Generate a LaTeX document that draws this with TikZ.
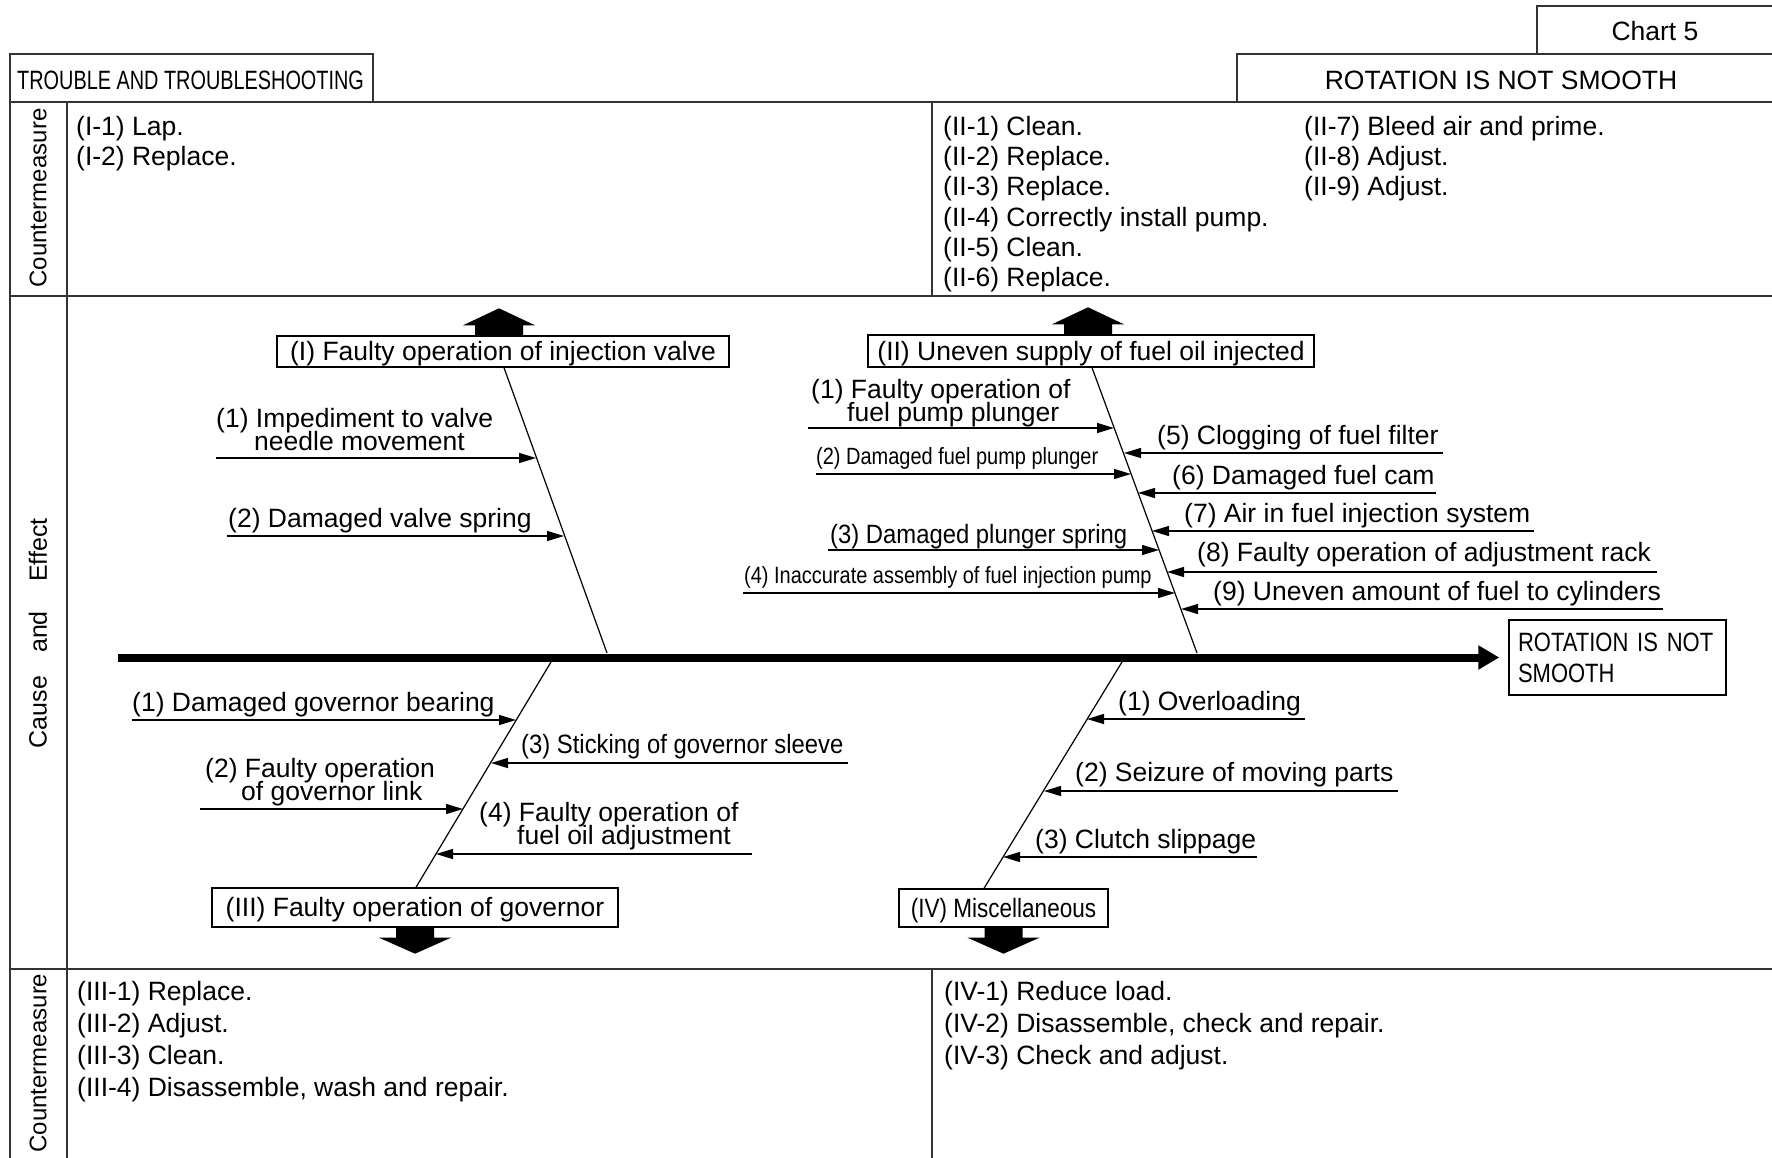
\documentclass[tikz,border=0pt]{standalone}
\usepackage{fontspec}
\setmainfont{Liberation Sans}
\newfontfamily\cnA[FakeStretch=0.75]{Liberation Sans}
\newfontfamily\cnB[FakeStretch=0.85]{Liberation Sans}
\newfontfamily\cnC[FakeStretch=0.9]{Liberation Sans}
\newfontfamily\cnD[FakeStretch=0.83]{Liberation Sans}
\newcommand\fixls{\lineskiplimit=-50pt\relax}
\usetikzlibrary{arrows.meta}
\begin{document}
\begin{tikzpicture}[x=1pt,y=-1pt,
  every node/.style={inner sep=0pt, font={\fontsize{26.5}{23}\selectfont\fixls}, text=black},
  frame/.style={line width=1.8pt, black!80},
  item/.style={anchor=west, yshift=-2.5pt},
  twoline/.style={anchor=north west, align=left, yshift=-2.5pt},
  vlabel/.style={rotate=90, font={\fontsize{24}{24}\selectfont}},
  titlebox/.style={draw, line width=1.4pt, align=center, text height=24.4pt, text depth=5.6pt},
  bone/.style={line width=1.2pt},
  cause/.style={line width=1.4pt, -{Triangle[length=17pt,width=10pt]}},
  spine/.style={line width=8pt, -{Triangle[length=21pt,width=23pt]}},
  uparr/.pic={\fill (-24,0) -- (-24,-10) -- (-36,-10) -- (0,-27) -- (36,-10) -- (24,-10) -- (24,0) -- cycle;},
  dnarr/.pic={\fill (-19,0) -- (-19,10) -- (-36,10) -- (0,26) -- (36,10) -- (19,10) -- (19,0) -- cycle;},
  condB/.style={font={\cnB\fontsize{23.5}{23}\selectfont\fixls}},
  condC/.style={font={\cnC\fontsize{26.5}{23}\selectfont\fixls}},
]
\useasboundingbox (0,0) rectangle (1772,1158);

% ---------- frame ----------
\draw[frame] (1537,54) -- (1537,6) -- (1772,6);
\draw[frame] (1237,102) -- (1237,54) -- (1772,54);
\draw[frame] (10,1158) -- (10,54) -- (373,54) -- (373,102);
\draw[frame] (10,102) -- (1772,102);
\draw[frame] (10,296) -- (1772,296);
\draw[frame] (10,969) -- (1772,969);
\draw[frame] (67,102) -- (67,1158);
\draw[frame] (932,102) -- (932,296);
\draw[frame] (932,969) -- (932,1158);

% ---------- headers ----------
\node[yshift=-1pt] (chart) at (1655,30) {Chart 5};
\node[yshift=-1pt] (title) at (1501,79) {ROTATION IS NOT SMOOTH};
\node[anchor=west, yshift=-1pt, font={\cnA\fontsize{26.5}{23}\selectfont}] (trouble) at (17,79) {TROUBLE AND TROUBLESHOOTING};

% ---------- side labels ----------
\node[vlabel] (cmtop) at (38,198) {Countermeasure};
\node[vlabel] (cmbot) at (38,1063) {Countermeasure};
\node[vlabel, font={\fontsize{25}{25}\selectfont}] (lcause) at (38,712) {Cause};
\node[vlabel, font={\fontsize{25}{25}\selectfont}] (land) at (38,632) {and};
\node[vlabel, font={\fontsize{25}{25}\selectfont}] (leffect) at (38,550) {Effect};

% ---------- countermeasures ----------
\foreach \t [count=\i] in {(I-1) Lap., (I-2) Replace.}
  \node[item] (cmI\i) at (76,{126+30.3*(\i-1)}) {\t};
\foreach \t [count=\i] in {(II-1) Clean., (II-2) Replace., (II-3) Replace., (II-4) Correctly install pump., (II-5) Clean., (II-6) Replace.}
  \node[item] (cmII\i) at (943,{126+30.3*(\i-1)}) {\t};
\foreach \t [count=\i from 7] in {(II-7) Bleed air and prime., (II-8) Adjust., (II-9) Adjust.}
  \node[item] (cmII\i) at (1304,{126+30.3*(\i-7)}) {\t};
\foreach \t [count=\i] in {(III-1) Replace., (III-2) Adjust., (III-3) Clean., {(III-4) Disassemble, wash and repair.}}
  \node[item] (cmIII\i) at (77,{991+32*(\i-1)}) {\t};
\foreach \t [count=\i] in {(IV-1) Reduce load., {(IV-2) Disassemble, check and repair.}, (IV-3) Check and adjust.}
  \node[item] (cmIV\i) at (944,{991+32*(\i-1)}) {\t};

% ---------- fishbone boxes ----------
\node[titlebox, minimum width=452pt, minimum height=31pt] (bI) at (503,351.5) {(I) Faulty operation of injection valve};
\node[titlebox, minimum width=446pt, minimum height=32pt] (bII) at (1091,351) {(II) Uneven supply of fuel oil injected};
\node[titlebox, minimum width=406pt, minimum height=39pt] (bIII) at (415,907.5) {(III) Faulty operation of governor};
\node[titlebox, minimum width=209pt, minimum height=38pt, font={\cnB\fontsize{26.5}{23}\selectfont}] (bIV) at (1003.5,908) {(IV) Miscellaneous};
\node[draw, line width=1.4pt, minimum width=217pt, minimum height=75pt, text width=199pt, align=left, font={\cnD\fontsize{26.5}{31}\selectfont\fixls}] (res) at (1617.5,657.5) {ROTATION IS NOT\\SMOOTH};

\pic at ([xshift=-4pt]bI.north) {uparr};
\pic at ([xshift=-3pt]bII.north) {uparr};
\pic at (bIII.south) {dnarr};
\pic at (bIV.south) {dnarr};

% ---------- spine and bones ----------
\coordinate (spL) at (118,657.5);
\draw[spine] (spL) -- ([xshift=-9pt]res.west);
\coordinate (jI) at (607,653);
\coordinate (jII) at (1197,653);
\coordinate (jIII) at (551,662);
\coordinate (jIV) at (1122,662);
\draw[bone] ([xshift=1pt]bI.south) -- (jI);
\draw[bone] ([xshift=1pt]bII.south) -- (jII);
\draw[bone] (jIII) -- ([xshift=1pt]bIII.north);
\draw[bone] (jIV) -- ([xshift=-19.5pt]bIV.north);

% ---------- cause arrows ----------
\coordinate (sI1) at (216,458);   \coordinate (tI1) at (536,458);
\coordinate (sI2) at (227,536);   \coordinate (tI2) at (564,536);
\coordinate (sII1) at (808,428);  \coordinate (tII1) at (1114,428);
\coordinate (sII2) at (816,474);  \coordinate (tII2) at (1131,474);
\coordinate (sII3) at (828,550);  \coordinate (tII3) at (1159,550);
\coordinate (sII4) at (743,593);  \coordinate (tII4) at (1175,593);
\coordinate (sII5) at (1443,453); \coordinate (tII5) at (1124,453);
\coordinate (sII6) at (1436,493); \coordinate (tII6) at (1138,493);
\coordinate (sII7) at (1534,531); \coordinate (tII7) at (1152,531);
\coordinate (sII8) at (1657,572); \coordinate (tII8) at (1167,572);
\coordinate (sII9) at (1663,609); \coordinate (tII9) at (1181,609);
\coordinate (sIII1) at (132,720); \coordinate (tIII1) at (516,720);
\coordinate (sIII2) at (200,809); \coordinate (tIII2) at (463,809);
\coordinate (sIII3) at (848,763); \coordinate (tIII3) at (491,763);
\coordinate (sIII4) at (752,854); \coordinate (tIII4) at (436,854);
\coordinate (sIV1) at (1305,719); \coordinate (tIV1) at (1087,719);
\coordinate (sIV2) at (1398,791); \coordinate (tIV2) at (1044,791);
\coordinate (sIV3) at (1257,857); \coordinate (tIV3) at (1003,857);
\foreach \n in {I1,I2,II1,II2,II3,II4,II5,II6,II7,II8,II9,III1,III2,III3,III4,IV1,IV2,IV3}
  \draw[cause] (s\n) -- (t\n);

% ---------- cause labels ----------
\node[twoline] (lI1) at (216,405.5) {(1) Impediment to valve\\\hspace*{38pt}needle movement};
\node[item] (lI2) at (228,518) {(2) Damaged valve spring};
\node[twoline] (lII1) at (811,376.5) {(1) Faulty operation of\\\hspace*{36pt}fuel pump plunger};
\node[item, condB] (lII2) at (816,456) {(2) Damaged fuel pump plunger};
\node[item, condC] (lII3) at (830,534) {(3) Damaged plunger spring};
\node[item, condB] (lII4) at (744,575) {(4) Inaccurate assembly of fuel injection pump};
\node[item] (lII5) at (1157,435) {(5) Clogging of fuel filter};
\node[item] (lII6) at (1172,475) {(6) Damaged fuel cam};
\node[item] (lII7) at (1184,513) {(7) Air in fuel injection system};
\node[item] (lII8) at (1197,552) {(8) Faulty operation of adjustment rack};
\node[item] (lII9) at (1213,591) {(9) Uneven amount of fuel to cylinders};
\node[item] (lIII1) at (132,702) {(1) Damaged governor bearing};
\node[item, condC] (lIII3) at (521,744) {(3) Sticking of governor sleeve};
\node[twoline] (lIII2) at (205,755.5) {(2) Faulty operation\\\hspace*{36pt}of governor link};
\node[twoline] (lIII4) at (479,799.5) {(4) Faulty operation of\\\hspace*{38pt}fuel oil adjustment};
\node[item] (lIV1) at (1118,701) {(1) Overloading};
\node[item] (lIV2) at (1075,772) {(2) Seizure of moving parts};
\node[item] (lIV3) at (1035,839) {(3) Clutch slippage};
\end{tikzpicture}
\end{document}
